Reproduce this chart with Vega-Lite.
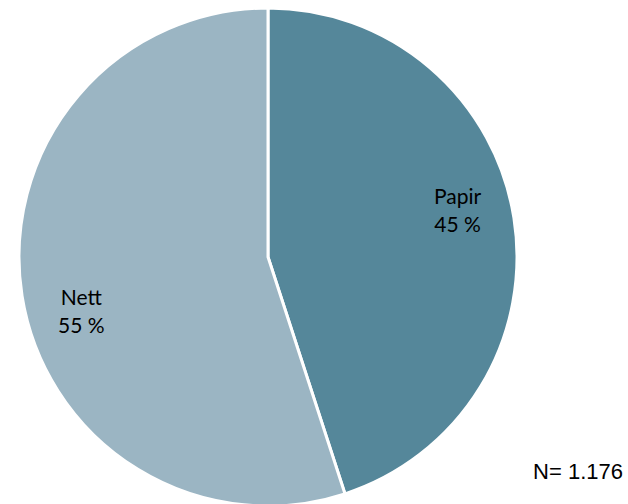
{
  "$schema": "https://vega.github.io/schema/vega-lite/v6.json",
  "width": 536,
  "height": 514,
  "autosize": {"type": "none"},
  "padding": {"left": 0, "top": 0, "right": 92, "bottom": 0},
  "background": "white",
  "config": {"view": {"stroke": null}},
  "title": {
    "text": "N= 1.176",
    "orient": "bottom",
    "anchor": "end",
    "frame": "group",
    "dx": 87,
    "offset": -52,
    "baseline": "top",
    "font": "Liberation Sans",
    "fontSize": 22,
    "fontWeight": "normal",
    "color": "black"
  },
  "data": {
    "values": [
      {"label": "Papir", "share": 45, "text": "Papir\n45 %"},
      {"label": "Nett", "share": 55, "text": "Nett\n55 %"}
    ]
  },
  "encoding": {
    "theta": {"field": "share", "type": "quantitative", "stack": true},
    "order": {"field": "share", "sort": "ascending"}
  },
  "layer": [
    {
      "mark": {"type": "arc", "outerRadius": 249, "stroke": "white", "strokeWidth": 3},
      "encoding": {
        "color": {
          "field": "label",
          "type": "nominal",
          "scale": {"domain": ["Papir", "Nett"], "range": ["#55879A", "#9BB5C3"]},
          "legend": null
        }
      }
    },
    {
      "mark": {"type": "text", "radius": 195, "dx": -3, "dy": -28, "font": "Lato", "fontSize": 21, "lineBreak": "\n", "lineHeight": 28, "color": "black", "align": "center", "baseline": "middle"},
      "encoding": {
        "text": {"condition": {"test": "datum.label === 'Papir'", "field": "text"}, "value": ""}
      }
    },
    {
      "mark": {"type": "text", "radius": 195, "dx": 6, "dy": 11, "font": "Lato", "fontSize": 21, "lineBreak": "\n", "lineHeight": 28, "color": "black", "align": "center", "baseline": "middle"},
      "encoding": {
        "text": {"condition": {"test": "datum.label === 'Nett'", "field": "text"}, "value": ""}
      }
    }
  ]
}
